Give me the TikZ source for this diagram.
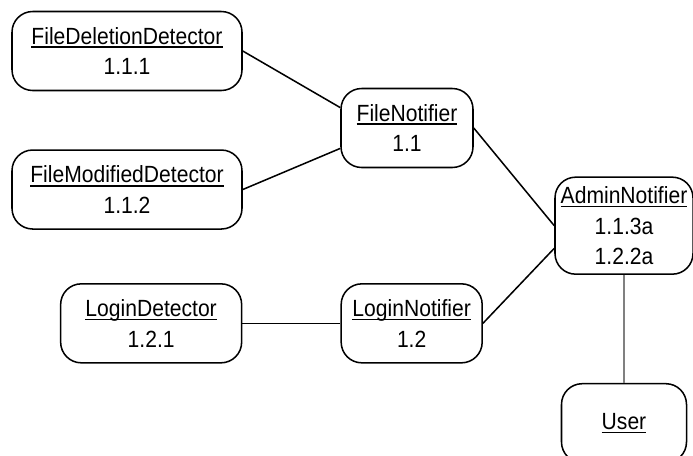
\documentclass[tikz,border=0pt]{standalone}
\usepackage{fontspec}
\setmainfont[FakeStretch=0.9]{Liberation Sans}
\usepackage{xcolor}
\usetikzlibrary{positioning}
\newcommand{\objname}[1]{\setbox0\hbox{#1}\rlap{\rule[-3.2pt]{\wd0}{1.3pt}}\box0}

\begin{document}
\begin{tikzpicture}[line width=1.3pt, node distance=1.74cm, every node/.style={draw, rounded corners=0.62cm, align=center, font=\fontsize{20}{26}\selectfont, minimum height=2.37cm, inner sep=0pt}]
\clip (0,0) rectangle (20.79,-13.65);
\node (fdd) [minimum width=6.9cm] at (3.81,-1.53) {\objname{FileDeletionDetector}\\1.1.1};
\node (fmd) [minimum width=6.9cm, below=of fdd] {\objname{FileModifiedDetector}\\1.1.2};
\node (fn) [minimum width=3.96cm] at (12.21,-3.84) {\objname{FileNotifier}\\1.1};
\node (an) [minimum width=4.14cm, minimum height=2.91cm] at (18.72,-6.77) {\objname{AdminNotifier}\\1.1.3a\\1.2.2a};
\node (ln) [minimum width=4.23cm] at (12.35,-9.7) {\objname{LoginNotifier}\\1.2};
\node (ld) [minimum width=5.43cm, left=2.94cm of ln] {\objname{LoginDetector}\\1.2.1};
\node (user) [minimum width=3.75cm, below=3.24cm of an] {\objname{User}};
\draw (fdd.east) -- (fn.163);
\draw (fmd.east) -- (fn.197);
\draw (fn.east) -- (an.west);
\draw (ln.east) -- (an.198);
\draw (ld) -- (ln);
\draw[gray] (an) -- (user);
\end{tikzpicture}
\end{document}
